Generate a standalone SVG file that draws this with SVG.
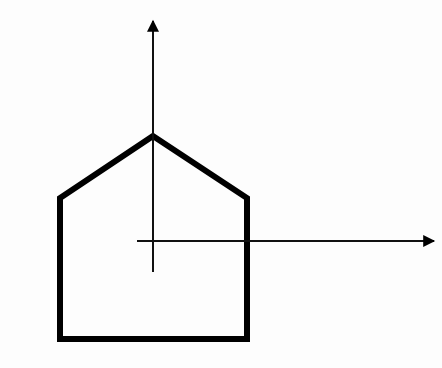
<svg xmlns="http://www.w3.org/2000/svg" width="442" height="368" viewBox="0 0 442 368">
<defs>
<marker id="arr" viewBox="0 0 10 10" refX="9" refY="5" markerWidth="16" markerHeight="12" markerUnits="userSpaceOnUse" orient="auto">
<path d="M0,0 L10,5 L0,10 Z" fill="#000"/>
</marker>
</defs>
<style>
.axis{stroke:#111;stroke-width:2;fill:none}
.house{stroke:#000;stroke-width:6;fill:none;stroke-linejoin:miter}
</style>
<rect width="442" height="368" fill="#fdfdfd"/>
<g id="house">
<polygon class="house" points="153,136 60,198 60,339 247,339 247,198"/>
</g>
<g id="connectors">
<line class="axis" x1="153" y1="272" x2="153" y2="21" marker-end="url(#arr)"/>
<line class="axis" x1="137" y1="241" x2="434" y2="241" marker-end="url(#arr)"/>
</g>
</svg>
